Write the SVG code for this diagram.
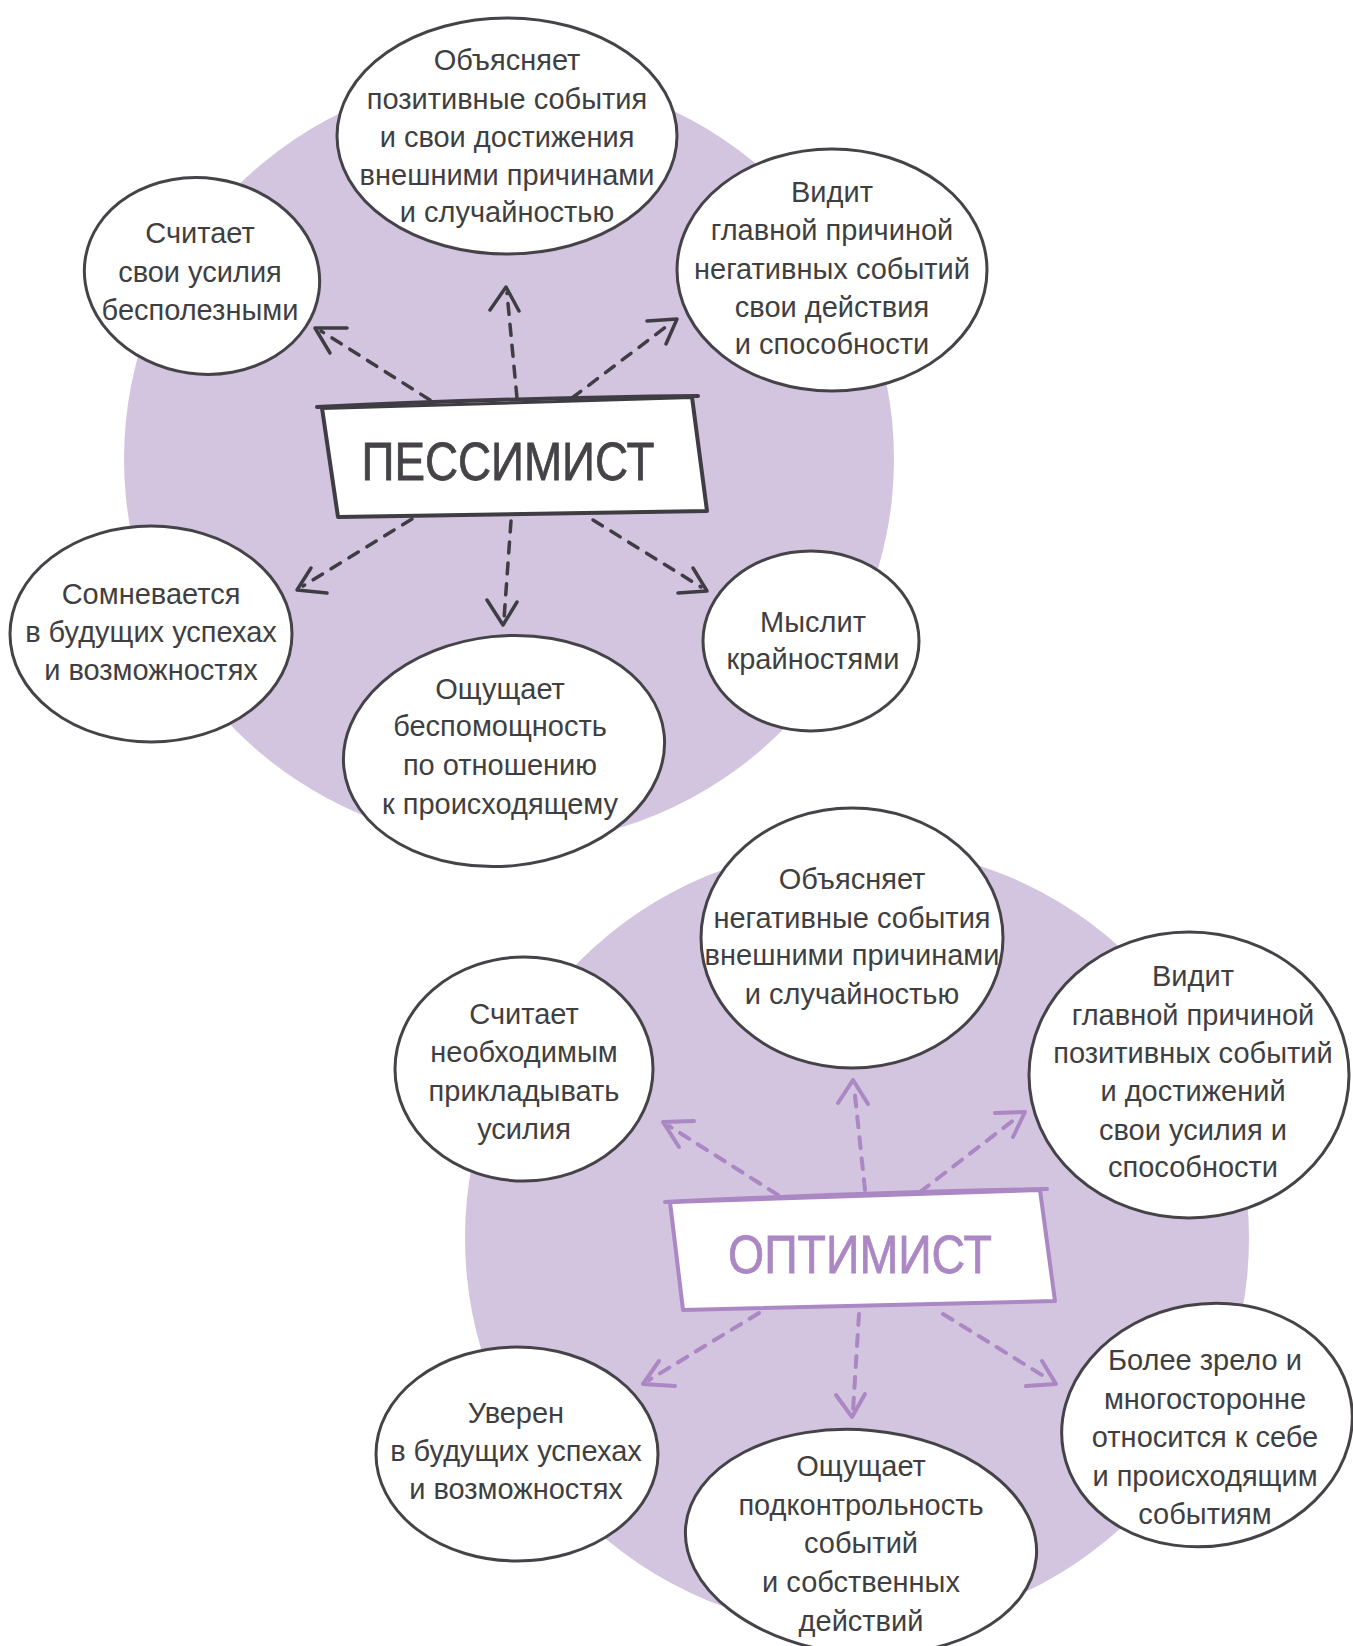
<svg xmlns="http://www.w3.org/2000/svg" width="1353" height="1646" viewBox="0 0 1353 1646">
<style>
.bg{fill:#d3c5df}
.node{fill:#ffffff;stroke:#454248;stroke-width:3}
.t{font-family:"Liberation Sans",Arial,sans-serif;font-size:29px;fill:#3f3f42;text-anchor:middle}
.title{font-family:"Liberation Sans",Arial,sans-serif;font-size:54px;text-anchor:middle;stroke-width:0.8}
.dp{fill:none;stroke:#3f3c44;stroke-width:3.5;stroke-linecap:round;stroke-linejoin:round;stroke-dasharray:11 10}
.hp{fill:none;stroke:#3f3c44;stroke-width:3.5;stroke-linecap:round;stroke-linejoin:round}
.do{fill:none;stroke:#ab87c3;stroke-width:4;stroke-linecap:round;stroke-linejoin:round;stroke-dasharray:11 10}
.ho{fill:none;stroke:#ab87c3;stroke-width:4;stroke-linecap:round;stroke-linejoin:round}
.boxp{fill:#ffffff;stroke:#3f3c44;stroke-width:4;stroke-linecap:round;stroke-linejoin:round}
.boxo{fill:#ffffff;stroke:#ab87c3;stroke-width:4;stroke-linecap:round;stroke-linejoin:round}
</style>
<rect width="1353" height="1646" fill="#ffffff"/>
<circle class="bg" cx="509" cy="459" r="385"/>
<circle class="bg" cx="857" cy="1238" r="392"/>

<g id="connectors">
  <!-- pessimist -->
  <path class="dp" d="M430,400 L321,331"/><path class="hp" d="M347,328 L315,328 L330,353"/>
  <path class="dp" d="M517,398 L507,293"/><path class="hp" d="M490,310 L506,287 L519,311"/>
  <path class="dp" d="M572,398 L671,323"/><path class="hp" d="M647,321 L677,319 L666,344"/>
  <path class="dp" d="M412,519 L303,586"/><path class="hp" d="M311,568 L297,590 L327,593"/>
  <path class="dp" d="M511,521 L504,619"/><path class="hp" d="M487,600 L503,625 L517,602"/>
  <path class="dp" d="M593,520 L701,587"/><path class="hp" d="M678,593 L707,591 L693,568"/>
  <!-- optimist -->
  <path class="do" d="M778,1195 L669,1126"/><path class="ho" d="M694,1121 L663,1122 L679,1147"/>
  <path class="do" d="M865,1190 L854,1086"/><path class="ho" d="M838,1103 L853,1080 L868,1104"/>
  <path class="do" d="M920,1192 L1019,1116"/><path class="ho" d="M995,1113 L1025,1112 L1013,1137"/>
  <path class="do" d="M759,1313 L649,1380"/><path class="ho" d="M659,1361 L643,1384 L675,1386"/>
  <path class="do" d="M859,1314 L853,1411"/><path class="ho" d="M836,1395 L852,1417 L865,1394"/>
  <path class="do" d="M943,1314 L1050,1380"/><path class="ho" d="M1026,1386 L1056,1384 L1042,1361"/>
</g>

<g id="pessimist">
  <path class="boxp" d="M322,408 L338,517 L707,511 L692,397 Z"/>
  <path class="boxp" d="M317,407 Q500,398 698,396"/>
  <text class="title" x="508" y="480" fill="#454347" stroke="#454347" textLength="293" lengthAdjust="spacingAndGlyphs">ПЕССИМИСТ</text>
</g>

<g id="p1">
  <ellipse class="node" cx="202" cy="276" rx="118" ry="98" transform="rotate(8 202 276)"/>
  <text class="t"><tspan x="200" y="243">Считает</tspan><tspan x="200" y="282">свои усилия</tspan><tspan x="200" y="320">бесполезными</tspan></text>
</g>
<g id="p2">
  <ellipse class="node" cx="507" cy="136" rx="170" ry="118"/>
  <text class="t"><tspan x="507" y="70">Объясняет</tspan><tspan x="507" y="109">позитивные события</tspan><tspan x="507" y="147">и свои достижения</tspan><tspan x="507" y="185">внешними причинами</tspan><tspan x="507" y="222">и случайностью</tspan></text>
</g>
<g id="p3">
  <ellipse class="node" cx="832" cy="270" rx="155" ry="121"/>
  <text class="t"><tspan x="832" y="202">Видит</tspan><tspan x="832" y="240">главной причиной</tspan><tspan x="832" y="279">негативных событий</tspan><tspan x="832" y="317">свои действия</tspan><tspan x="832" y="354">и способности</tspan></text>
</g>
<g id="p4">
  <ellipse class="node" cx="151" cy="634" rx="141" ry="108"/>
  <text class="t"><tspan x="151" y="604">Сомневается</tspan><tspan x="151" y="642">в будущих успехах</tspan><tspan x="151" y="680">и возможностях</tspan></text>
</g>
<g id="p5">
  <ellipse class="node" cx="504" cy="751" rx="161" ry="115" transform="rotate(-6 504 751)"/>
  <text class="t"><tspan x="500" y="699">Ощущает</tspan><tspan x="500" y="736">беспомощность</tspan><tspan x="500" y="775">по отношению</tspan><tspan x="500" y="814">к происходящему</tspan></text>
</g>
<g id="p6">
  <ellipse class="node" cx="811" cy="641" rx="108" ry="90"/>
  <text class="t"><tspan x="813" y="632">Мыслит</tspan><tspan x="813" y="669">крайностями</tspan></text>
</g>

<g id="optimist">
  <path class="boxo" d="M670,1202 L683,1310 L1055,1301 L1040,1190 Z"/>
  <path class="boxo" d="M665,1202 Q850,1193 1047,1189"/>
  <text class="title" x="860" y="1273" fill="#ab87c3" stroke="#ab87c3" textLength="264" lengthAdjust="spacingAndGlyphs">ОПТИМИСТ</text>
</g>

<g id="o1">
  <ellipse class="node" cx="852" cy="938" rx="151" ry="130"/>
  <text class="t"><tspan x="852" y="889">Объясняет</tspan><tspan x="852" y="928">негативные события</tspan><tspan x="852" y="965">внешними причинами</tspan><tspan x="852" y="1004">и случайностью</tspan></text>
</g>
<g id="o2">
  <ellipse class="node" cx="524" cy="1069" rx="129" ry="112"/>
  <text class="t"><tspan x="524" y="1024">Считает</tspan><tspan x="524" y="1062">необходимым</tspan><tspan x="524" y="1101">прикладывать</tspan><tspan x="524" y="1139">усилия</tspan></text>
</g>
<g id="o3">
  <ellipse class="node" cx="1189" cy="1075" rx="160" ry="143"/>
  <text class="t"><tspan x="1193" y="986">Видит</tspan><tspan x="1193" y="1025">главной причиной</tspan><tspan x="1193" y="1063">позитивных событий</tspan><tspan x="1193" y="1101">и достижений</tspan><tspan x="1193" y="1140">свои усилия и</tspan><tspan x="1193" y="1177">способности</tspan></text>
</g>
<g id="o4">
  <ellipse class="node" cx="517" cy="1454" rx="141" ry="107"/>
  <text class="t"><tspan x="516" y="1423">Уверен</tspan><tspan x="516" y="1461">в будущих успехах</tspan><tspan x="516" y="1499">и возможностях</tspan></text>
</g>
<g id="o5">
  <ellipse class="node" cx="861" cy="1542" rx="176" ry="112" transform="rotate(5 861 1542)"/>
  <text class="t"><tspan x="861" y="1476">Ощущает</tspan><tspan x="861" y="1515">подконтрольность</tspan><tspan x="861" y="1553">событий</tspan><tspan x="861" y="1592">и собственных</tspan><tspan x="861" y="1631">действий</tspan></text>
</g>
<g id="o6">
  <ellipse class="node" cx="1207" cy="1425" rx="146" ry="121" transform="rotate(-10 1207 1425)"/>
  <text class="t"><tspan x="1205" y="1370">Более зрело и</tspan><tspan x="1205" y="1409">многосторонне</tspan><tspan x="1205" y="1447">относится к себе</tspan><tspan x="1205" y="1486">и происходящим</tspan><tspan x="1205" y="1524">событиям</tspan></text>
</g>
</svg>
